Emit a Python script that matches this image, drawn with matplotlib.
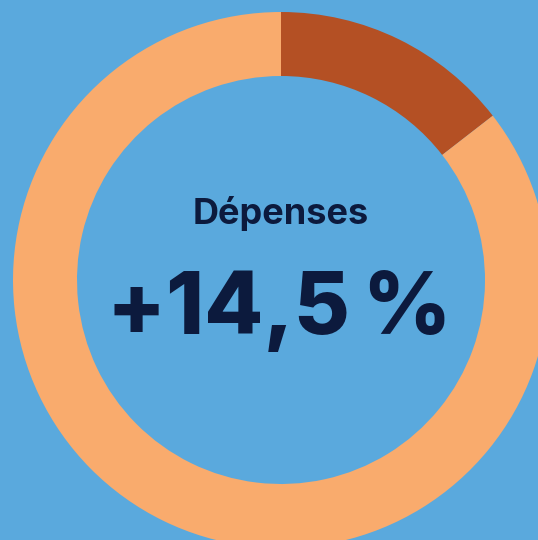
import matplotlib
matplotlib.use("Agg")
import matplotlib.pyplot as plt

labels = ["Hausse", "Reste"]
values = [14.5, 85.5]
title = "Dépenses"
headline = "+14,5\u2009%"

colors = ["#B45024", "#F9AB6D"]
bg = "#5AA9DD"
ink = "#0C1A3D"

fig = plt.figure(figsize=(5.38, 5.40), dpi=100, facecolor=bg)
ax = fig.add_axes([0, 0, 1, 1])
ax.set_facecolor(bg)

cx, cy, r = 281, 540 - 280, 268
ax.pie(values, colors=colors, startangle=90, counterclock=False,
       center=(cx, cy), radius=r, frame=True,
       wedgeprops=dict(width=64, linewidth=0))
ax.set_xlim(0, 538)
ax.set_ylim(0, 540)
ax.set_aspect("equal")
ax.axis("off")

fam = ["Inter", "DejaVu Sans"]
ax.text(cx, 540 - 224, title, ha="center", va="baseline", fontsize=26,
        fontweight="bold", color=ink, family=fam)
ax.text(cx - 2, 540 - 334, headline, ha="center", va="baseline", fontsize=62,
        fontweight="heavy", color=ink, family=fam)

fig.savefig("out.png", dpi=100, facecolor=bg)
